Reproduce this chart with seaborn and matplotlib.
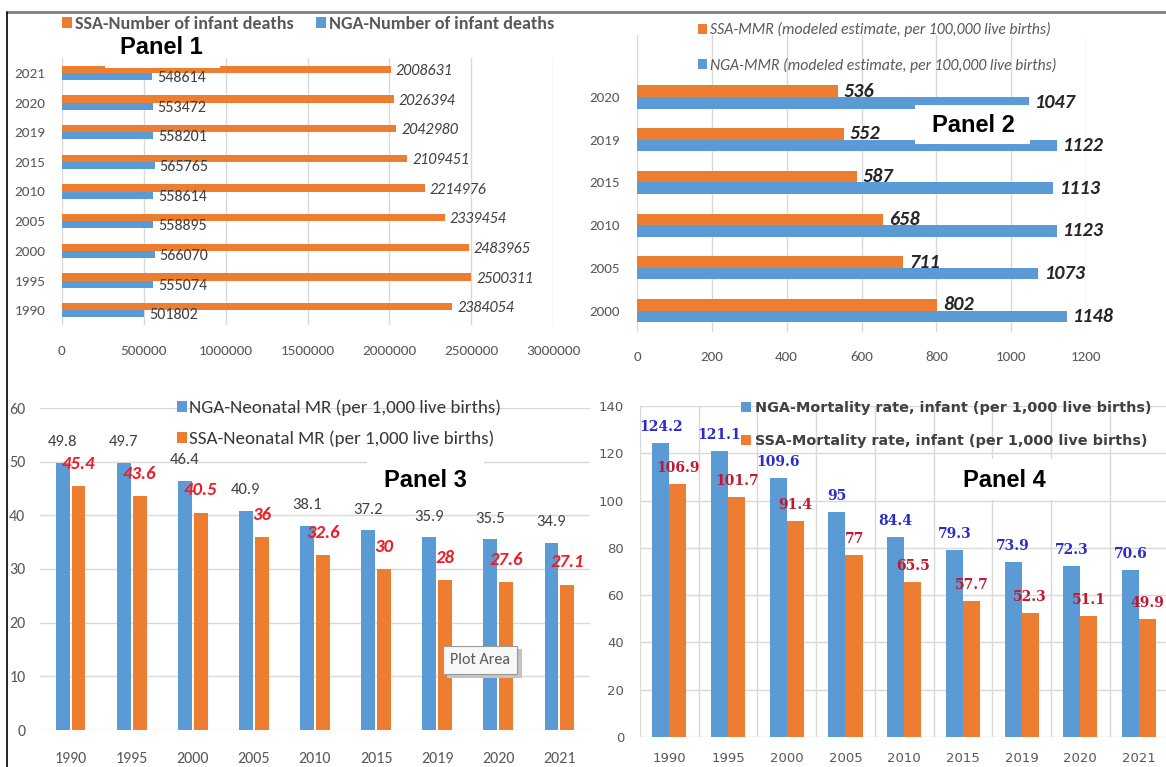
import matplotlib
matplotlib.use("Agg")
import numpy as np
import pandas as pd
import matplotlib.pyplot as plt
from matplotlib.patches import Rectangle, Patch
from matplotlib.lines import Line2D
from matplotlib import font_manager
from matplotlib.font_manager import FontProperties
import seaborn as sns


def pick_font(candidates):
    for name in candidates:
        try:
            font_manager.findfont(FontProperties(family=name), fallback_to_default=False)
            return name
        except Exception:
            continue
    return "DejaVu Sans"


sns.set_style("white")
BODY = pick_font(["Carlito", "Liberation Sans Narrow", "Arimo", "Liberation Sans"])
WIDE = "DejaVu Sans"
plt.rcParams["font.family"] = [BODY, "DejaVu Sans"]

ORANGE = "#ED7D31"
BLUE = "#5B9BD5"
GRID = "#D9D9D9"
TICK = "#595959"

# Panel 1: number of infant deaths (horizontal bars, newest year on top)
p1_years = ["2021", "2020", "2019", "2015", "2010", "2005", "2000", "1995", "1990"]
p1_ssa = [2008631, 2026394, 2042980, 2109451, 2214976, 2339454, 2483965, 2500311, 2384054]
p1_nga = [548614, 553472, 558201, 565765, 558614, 558895, 566070, 555074, 501802]
p1_series = ["SSA-Number of infant deaths", "NGA-Number of infant deaths"]
p1_xticks = [0, 500000, 1000000, 1500000, 2000000, 2500000, 3000000]

# Panel 2: maternal mortality ratio
p2_years = ["2020", "2019", "2015", "2010", "2005", "2000"]
p2_ssa = [536, 552, 587, 658, 711, 802]
p2_nga = [1047, 1122, 1113, 1123, 1073, 1148]
p2_series = ["SSA-MMR (modeled estimate, per 100,000 live births)",
             "NGA-MMR (modeled estimate, per 100,000 live births)"]
p2_xticks = [0, 200, 400, 600, 800, 1000, 1200]

# Panels 3 and 4 share the year axis
p34_years = ["1990", "1995", "2000", "2005", "2010", "2015", "2019", "2020", "2021"]

# Panel 3: neonatal mortality rate
p3_nga = [49.8, 49.7, 46.4, 40.9, 38.1, 37.2, 35.9, 35.5, 34.9]
p3_ssa = [45.4, 43.6, 40.5, 36, 32.6, 30, 28, 27.6, 27.1]
p3_series = ["NGA-Neonatal MR (per 1,000 live births)", "SSA-Neonatal MR (per 1,000 live births)"]
p3_yticks = [0, 10, 20, 30, 40, 50, 60]

# Panel 4: infant mortality rate
p4_nga = [124.2, 121.1, 109.6, 95, 84.4, 79.3, 73.9, 72.3, 70.6]
p4_ssa = [106.9, 101.7, 91.4, 77, 65.5, 57.7, 52.3, 51.1, 49.9]
p4_series = ["NGA-Mortality rate, infant (per 1,000 live births)",
             "SSA-Mortality rate, infant (per 1,000 live births)"]
p4_yticks = [0, 20, 40, 60, 80, 100, 120, 140]


def long_frame(cats, first, second, names):
    return pd.DataFrame({
        "year": list(cats) * 2,
        "value": list(first) + list(second),
        "series": [names[0]] * len(cats) + [names[1]] * len(cats),
    })


W, H = 1166, 767
fig = plt.figure(figsize=(W / 100, H / 100), dpi=100)


def add_ax(left, top, right, bottom):
    return fig.add_axes([left / W, 1 - bottom / H, (right - left) / W, (bottom - top) / H])


def fig_xy(x, y):
    return (x / W, 1 - y / H)


def square_handles(colors):
    return [Patch(facecolor=c, edgecolor="none") for c in colors]


def style_axes(ax):
    sns.despine(ax=ax, left=True, bottom=True, top=True, right=True)
    ax.set_xlabel("")
    ax.set_ylabel("")
    ax.set_axisbelow(True)
    ax.tick_params(length=0, labelcolor=TICK)


# ---------------- Panel 1 ----------------
ax1 = add_ax(62, 58, 553, 325)
df1 = long_frame(p1_years, p1_ssa, p1_nga, p1_series)
sns.barplot(data=df1, x="value", y="year", hue="series", order=p1_years, hue_order=p1_series,
            palette=[ORANGE, BLUE], orient="h", width=0.49, saturation=1, linewidth=0,
            errorbar=None, legend=False, ax=ax1)
style_axes(ax1)
ax1.set_xlim(0, 3000000)
ax1.set_ylim(8.5, -0.5)
ax1.set_xticks(p1_xticks)
ax1.set_xticklabels([str(t) for t in p1_xticks])
ax1.xaxis.grid(True, color=GRID, lw=1)
ax1.yaxis.grid(False)
ax1.tick_params(axis="y", pad=12, labelsize=11)
ax1.tick_params(axis="x", pad=14.5, labelsize=11)
for cont, fstyle in zip(ax1.containers, ["italic", "normal"]):
    for bar in cont:
        v = bar.get_width()
        ax1.annotate(f"{v:.0f}", (v, bar.get_y() + bar.get_height() / 2), xytext=(3.6, -1.2),
                     textcoords="offset points", ha="left", va="center", fontsize=11.5,
                     style=fstyle, color="#404040")
ax1.legend(square_handles([ORANGE, BLUE]), p1_series, loc="center left",
           bbox_to_anchor=fig_xy(62, 24), bbox_transform=fig.transFigure, ncol=2,
           frameon=False, borderpad=0, borderaxespad=0, handlelength=0.55, handleheight=0.55,
           handletextpad=0.15, columnspacing=1.25,
           prop=dict(family=BODY, size=13.1, weight="bold"), labelcolor=TICK)

# ---------------- Panel 2 ----------------
ax2 = add_ax(637, 35, 1086, 332)
df2 = long_frame(p2_years, p2_ssa, p2_nga, p2_series)
sns.barplot(data=df2, x="value", y="year", hue="series", order=p2_years, hue_order=p2_series,
            palette=[ORANGE, BLUE], orient="h", width=0.54, saturation=1, linewidth=0,
            errorbar=None, legend=False, ax=ax2)
style_axes(ax2)
ax2.set_xlim(0, 1200)
ax2.set_ylim(5.5, -1.45)
ax2.set_xticks(p2_xticks)
ax2.xaxis.grid(True, color=GRID, lw=1)
ax2.yaxis.grid(False)
ax2.tick_params(axis="y", pad=12, labelsize=10.8)
ax2.tick_params(axis="x", pad=14, labelsize=10.8)
for cont in ax2.containers:
    for bar in cont:
        v = bar.get_width()
        ax2.annotate(f"{v:.0f}", (v, bar.get_y() + bar.get_height() / 2), xytext=(4.5, 0),
                     textcoords="offset points", ha="left", va="center", fontsize=14.5,
                     style="italic", weight="bold", color="#262626")
ax2.legend(square_handles([ORANGE, BLUE]), p2_series, loc="center left",
           bbox_to_anchor=fig_xy(698, 47.5), bbox_transform=fig.transFigure, ncol=1,
           frameon=False, borderpad=0, borderaxespad=0, handlelength=0.6, handleheight=0.6,
           handletextpad=0.15, labelspacing=1.3,
           prop=dict(family=BODY, size=11.3, style="italic"), labelcolor=TICK)

# ---------------- Panel 3 ----------------
ax3 = add_ax(40, 408, 590, 730)
df3 = long_frame(p34_years, p3_nga, p3_ssa, p3_series)
sns.barplot(data=df3, x="year", y="value", hue="series", order=p34_years, hue_order=p3_series,
            palette=[BLUE, ORANGE], width=0.52, gap=0.123, saturation=1, linewidth=0,
            errorbar=None, legend=False, ax=ax3)
style_axes(ax3)
ax3.set_ylim(0, 60)
ax3.set_xlim(-0.5, 8.5)
ax3.set_yticks(p3_yticks)
ax3.yaxis.grid(True, color=GRID, lw=1)
ax3.xaxis.grid(False)
ax3.tick_params(axis="y", pad=10.5, labelsize=11.5)
ax3.tick_params(axis="x", pad=16, labelsize=11.5)
label_styles3 = [dict(fontsize=12, color="#404040", offset=15),
                 dict(fontsize=13.5, color="#EE1C25", style="italic", weight="bold", offset=16)]
for cont, st in zip(ax3.containers, label_styles3):
    st = dict(st)
    off = st.pop("offset")
    for bar in cont:
        v = bar.get_height()
        ax3.annotate(f"{v:g}", (bar.get_x() + bar.get_width() / 2, v), xytext=(0, off),
                     textcoords="offset points", ha="center", va="center", **st)
ax3.legend(square_handles([BLUE, ORANGE]), p3_series, loc="center left",
           bbox_to_anchor=fig_xy(177, 423.5), bbox_transform=fig.transFigure, ncol=1,
           frameon=False, borderpad=0, borderaxespad=0, handlelength=0.5, handleheight=0.55,
           handletextpad=0.15, labelspacing=0.75,
           prop=dict(family=BODY, size=13.7), labelcolor="#383838")

# ---------------- Panel 4 ----------------
ax4 = add_ax(640, 406, 1168.4, 737)
df4 = long_frame(p34_years, p4_nga, p4_ssa, p4_series)
sns.barplot(data=df4, x="year", y="value", hue="series", order=p34_years, hue_order=p4_series,
            palette=[BLUE, ORANGE], width=0.58, saturation=1, linewidth=0,
            errorbar=None, legend=False, ax=ax4)
style_axes(ax4)
ax4.set_ylim(0, 140)
ax4.set_xlim(-0.5, 8.5)
ax4.set_yticks(p4_yticks)
ax4.set_xticks(np.arange(-0.5, 9, 1), minor=True)
ax4.yaxis.grid(True, color=GRID, lw=1)
ax4.xaxis.grid(True, which="minor", color=GRID, lw=1)
ax4.xaxis.grid(False, which="major")
ax4.tick_params(which="both", length=0)
for lab in ax4.get_xticklabels() + ax4.get_yticklabels():
    lab.set_family(WIDE)
ax4.tick_params(axis="y", pad=11.5, labelsize=9.5)
ax4.tick_params(axis="x", pad=11, labelsize=9.5)
label_colors4 = ["#2B2BCF", "#C4162E"]
for cont, col in zip(ax4.containers, label_colors4):
    for bar in cont:
        v = bar.get_height()
        ax4.annotate(f"{v:g}", (bar.get_x() + bar.get_width() / 2, v), xytext=(0, 11.5),
                     textcoords="offset points", ha="center", va="center", fontsize=10,
                     family="DejaVu Serif", weight="bold", color=col)
ax4.legend(square_handles([BLUE, ORANGE]), p4_series, loc="center left",
           bbox_to_anchor=fig_xy(741, 424.5), bbox_transform=fig.transFigure, ncol=1,
           frameon=False, borderpad=0, borderaxespad=0, handlelength=0.7, handleheight=0.7,
           handletextpad=0.25, labelspacing=1.35,
           prop=dict(family=WIDE, size=10.4, weight="bold"), labelcolor="#404040")

# ---------------- Panel titles on white boxes ----------------
boxes = [(105, 33, 220, 68), (915, 105, 1030, 144), (367, 459, 484, 500), (945, 459, 1065, 500)]
titles = [("Panel 1", 161.5, 47.7), ("Panel 2", 973, 125), ("Panel 3", 425.5, 480.6),
          ("Panel 4", 1004.5, 480.5)]
for (x0, y0, x1, y1) in boxes:
    fig.add_artist(Rectangle(fig_xy(x0, y1), (x1 - x0) / W, (y1 - y0) / H,
                             transform=fig.transFigure, facecolor="white", edgecolor="none",
                             zorder=5))
for txt, x, y in titles:
    fig.text(*fig_xy(x, y), txt, ha="center", va="center", family="Liberation Sans",
             weight="bold", size=17, color="black", zorder=6)

# "Plot Area" tooltip with drop shadow
fig.add_artist(Rectangle(fig_xy(447, 678), 75 / W, 29 / H, transform=fig.transFigure,
                         facecolor="#C4C4C4", edgecolor="none", zorder=5))
fig.add_artist(Rectangle(fig_xy(443, 674), 74 / W, 28 / H, transform=fig.transFigure,
                         facecolor="#F7F7F7", edgecolor="#9A9A9A", lw=0.8, zorder=6))
fig.text(*fig_xy(480, 660), "Plot Area", ha="center", va="center", size=11.5,
         color=TICK, zorder=7)

# Outer frame lines
fig.add_artist(Line2D([7 / W, 1], [1 - 12 / H] * 2, transform=fig.transFigure,
                      color="#7F7F7F", lw=2))
fig.add_artist(Line2D([7 / W] * 2, [1 - 12 / H, 0], transform=fig.transFigure,
                      color="black", lw=1.2))

fig.savefig("out.png", dpi=100, facecolor="white")
